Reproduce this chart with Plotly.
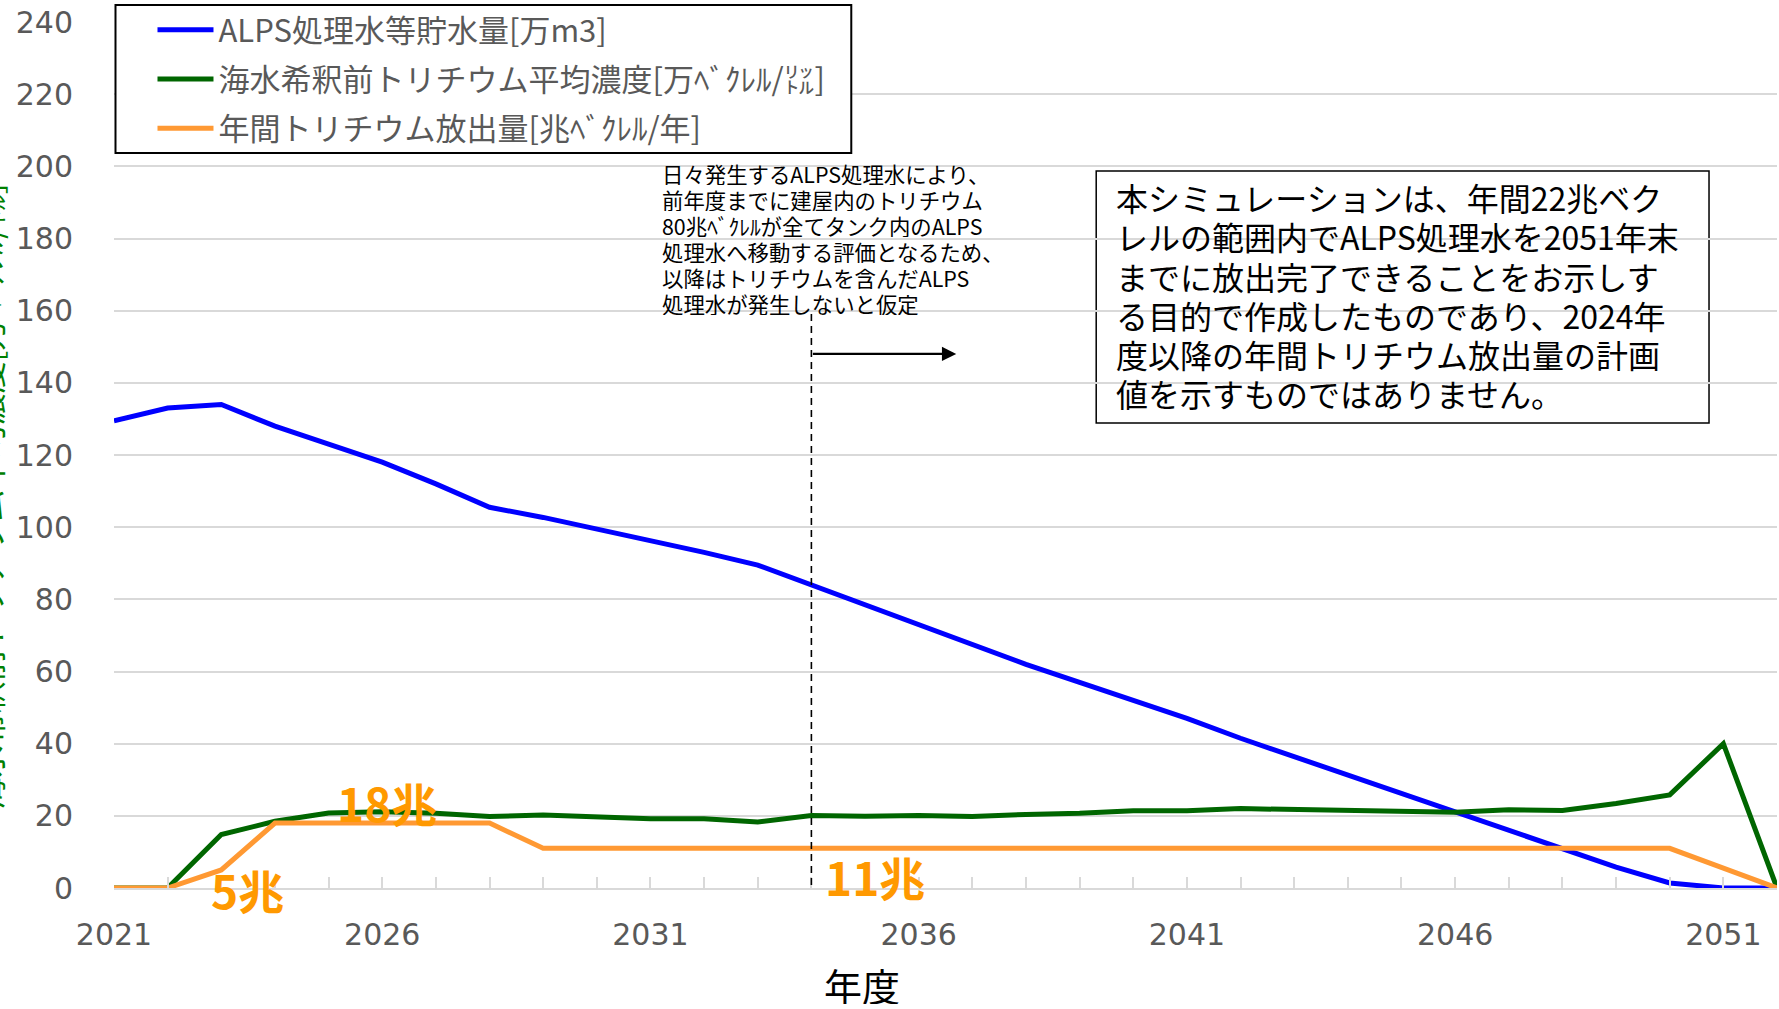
import plotly.graph_objects as go

years = list(range(2021, 2053))
storage = [129.5, 133, 134, 128, 123, 118, 112, 105.5, 102.7, 99.5, 96, 93, 89.5, 84, 78.5, 73,
           67.5, 62, 57, 52, 47, 41.5, 36.4, 31.2, 26, 20.8, 15.7, 10.7, 5.8, 1.4, 0, 0]
conc = [0, 0, 14.8, 18.5, 20.8, 21.1, 20.7, 19.8, 20.2, 19.6, 19.2, 19.2, 18.3, 20.1, 19.9, 20.1,
        19.8, 20.4, 20.7, 21.4, 21.4, 22.0, 21.7, 21.4, 21.0, 21.0, 21.7, 21.5, 23.4, 25.8, 40, 0]
release = [0, 0, 5, 18, 18, 18, 18, 18, 11, 11, 11, 11, 11, 11, 11, 11,
           11, 11, 11, 11, 11, 11, 11, 11, 11, 11, 11, 11, 11, 11, 5.5, 0]

names = ["ALPS処理水等貯水量[万m3]", "海水希釈前トリチウム平均濃度[万ﾍﾞｸﾚﾙ/㍑]", "年間トリチウム放出量[兆ﾍﾞｸﾚﾙ/年]"]
colors = ["#0000FF", "#006600", "#FF9933"]
series = [storage, conc, release]

note1_lines = ["日々発生するALPS処理水により、", "前年度までに建屋内のトリチウム",
               "80兆ﾍﾞｸﾚﾙが全てタンク内のALPS", "処理水へ移動する評価となるため、",
               "以降はトリチウムを含んだALPS", "処理水が発生しないと仮定"]
note2_lines = ["本シミュレーションは、年間22兆ベク", "レルの範囲内でALPS処理水を2051年末",
               "までに放出完了できることをお示しす", "る目的で作成したものであり、2024年",
               "度以降の年間トリチウム放出量の計画", "値を示すものではありません。"]
value_labels = ["18兆", "5兆", "11兆"]
x_title = "年度"

W, H = 1779, 1009
L, R, T, B = 113.5, 2, 22, 121
pw, ph = W - L - R, H - T - B

def px_x(p):
    return (p - L) / pw

def px_y(p):
    return (H - B - p) / ph

fig = go.Figure()
for n, c, s in zip(names, colors, series):
    fig.add_trace(go.Scatter(x=years, y=s, mode="lines", name=n,
                             line=dict(color=c, width=5), legendgroup=n))

cjk = "Noto Sans CJK JP"
orange_lbl = "#FF9900"
label_pos = [(387, 802), (247, 889), (875, 876)]
for txt, (lx, ly) in zip(value_labels, label_pos):
    fig.add_annotation(x=px_x(lx), y=px_y(ly), xref="paper", yref="paper", text=f"<b>{txt}</b>",
                       xanchor="center", yanchor="middle",
                       showarrow=False, font=dict(family=cjk, size=46, color=orange_lbl))

for i, line in enumerate(note1_lines):
    fig.add_annotation(x=px_x(660), y=px_y(173 + 26 * i), xref="paper", yref="paper",
                       xanchor="left", yanchor="middle", align="left", text=line, height=24,
                       showarrow=False, font=dict(family=cjk, size=21.4, color="#000000"))

for i, line in enumerate(note2_lines):
    fig.add_annotation(x=px_x(1114), y=px_y(197 + 39 * i), xref="paper", yref="paper",
                       xanchor="left", yanchor="middle", align="left", text=line, height=37,
                       showarrow=False, font=dict(family=cjk, size=32, color="#000000"))

# x-axis title (offset left of the plot centre, as in the original)
fig.add_annotation(x=px_x(862), y=px_y(984), xref="paper", yref="paper", text=x_title,
                   xanchor="center", yanchor="middle", showarrow=False, height=40,
                   font=dict(family=cjk, size=38, color="#000000"))

# arrow
fig.add_annotation(x=2036.7, y=148, ax=2034, ay=148, xref="x", yref="y", axref="x", ayref="y",
                   text="", showarrow=True, arrowhead=2, arrowsize=1.3, arrowwidth=2.2,
                   arrowcolor="#000000")

# clipped green axis title at left edge
fig.add_annotation(x=px_x(-13), y=px_y(497), xref="paper", yref="paper", textangle=-90,
                   xanchor="center", yanchor="middle",
                   text="海水希釈前トリチウム平均濃度[万ﾍﾞｸﾚﾙ/㍑]", showarrow=False,
                   font=dict(family=cjk, size=32, color="#008000"))

shapes = [
    dict(type="line", xref="x", yref="y", x0=2034, x1=2034, y0=0.8, y1=160,
         line=dict(color="#000000", width=1.6, dash="7px,5px")),
    dict(type="rect", xref="paper", yref="paper", x0=px_x(115), x1=px_x(851),
         y0=px_y(153), y1=px_y(5), line=dict(color="#000000", width=2), fillcolor="white",
         layer="above"),
    dict(type="rect", xref="paper", yref="paper", x0=px_x(1096), x1=px_x(1709),
         y0=px_y(423), y1=px_y(171), line=dict(color="#000000", width=1.5), fillcolor="white",
         layer="below"),
]

fig.update_layout(
    width=W, height=H,
    margin=dict(l=L, r=R, t=T, b=B, pad=0, autoexpand=False),
    plot_bgcolor="white", paper_bgcolor="white",
    shapes=shapes,
    showlegend=True,
    legend=dict(x=px_x(152), y=px_y(3), xanchor="left", yanchor="top",
                bgcolor="rgba(0,0,0,0)", borderwidth=0, itemwidth=56,
                font=dict(family=cjk, size=31, color="#595959"), tracegroupgap=6,
                traceorder="grouped"),
    xaxis=dict(range=[2021, 2052], tick0=2021, dtick=5, ticks="inside", ticklen=11,
               tickcolor="#D9D9D9", tickwidth=1.5, showgrid=False, zeroline=False,
               showline=True, linecolor="#D9D9D9", linewidth=1.5, automargin=False,
               minor=dict(dtick=1, ticks="inside", ticklen=11, tickcolor="#D9D9D9", tickwidth=1.5,
                          showgrid=False),
               tickfont=dict(family="DejaVu Sans", size=30, color="#595959"),
               ticklabelstandoff=19),
    yaxis=dict(range=[0, 240], dtick=20, showgrid=True, gridcolor="#D9D9D9", gridwidth=1.5,
               zeroline=False, showline=False, ticks="", automargin=False,
               tickfont=dict(family="DejaVu Sans", size=30, color="#595959"),
               ticklabelstandoff=40),
)

fig.write_html("out.html", config={"displayModeBar": False})

# remove the browser's default page margin so the figure sits at the top-left corner
with open("out.html", "r", encoding="utf-8") as f:
    html = f.read()
html = html.replace("<head>", "<head><style>html,body{margin:0;padding:0;overflow:hidden;}</style>", 1)
with open("out.html", "w", encoding="utf-8") as f:
    f.write(html)
